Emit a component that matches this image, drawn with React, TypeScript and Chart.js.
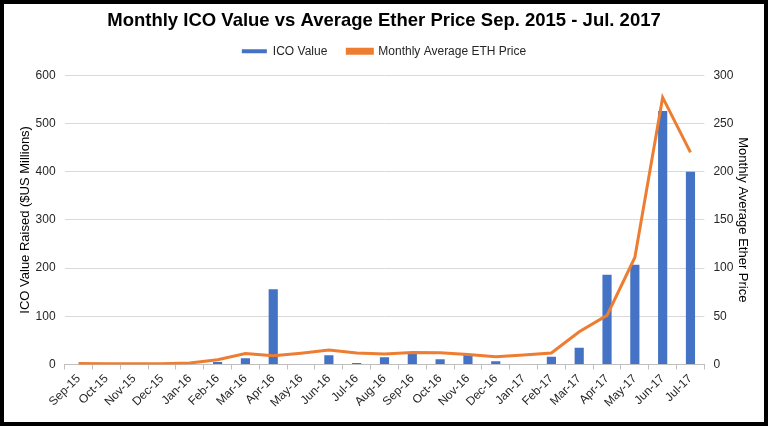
import React, { useEffect, useRef } from "react";
import { Chart, registerables } from "chart.js";

Chart.register(...registerables);

const categories = [
  "Sep-15", "Oct-15", "Nov-15", "Dec-15", "Jan-16", "Feb-16", "Mar-16", "Apr-16",
  "May-16", "Jun-16", "Jul-16", "Aug-16", "Sep-16", "Oct-16", "Nov-16", "Dec-16",
  "Jan-17", "Feb-17", "Mar-17", "Apr-17", "May-17", "Jun-17", "Jul-17",
];

const icoValue = [
  0, 0, 0, 0, 0, 5, 13, 156, 0, 19, 3, 15, 22, 11, 20, 7, 0, 16, 35, 186, 207, 526, 400,
];

const ethPrice = [
  1, 0.8, 0.9, 0.9, 1.5, 5, 11.5, 9, 11.7, 15, 12, 11, 12.5, 12.3, 10.5, 8, 10, 12, 34, 51, 111, 277, 220,
];

const leftTicks = [0, 100, 200, 300, 400, 500, 600];
const rightTicks = [0, 50, 100, 150, 200, 250, 300];

const FONT = "'Liberation Sans', Arial, sans-serif";
const TEXT = "#262626";

const legendGrow = {
  id: "legendGrow",
  beforeInit(chart: any) {
    const legend = chart.legend;
    if (!legend) return;
    const origFit = legend.fit;
    legend.fit = function () {
      origFit.bind(legend)();
      this.height += 8;
    };
  },
};

export default function App() {
  const ref = useRef<HTMLCanvasElement | null>(null);

  useEffect(() => {
    document.body.style.margin = "0";
    if (!ref.current) return;
    const chart = new Chart(ref.current, {
      type: "bar",
      plugins: [legendGrow],
      data: {
        labels: categories,
        datasets: [
          {
            type: "bar",
            label: "ICO Value",
            data: icoValue,
            backgroundColor: "#4472C4",
            borderColor: "#4472C4",
            borderWidth: 0,
            barPercentage: 0.33,
            categoryPercentage: 1,
            yAxisID: "y",
            order: 1,
          },
          {
            type: "line",
            label: "Monthly Average ETH Price",
            data: ethPrice,
            borderColor: "#ED7D31",
            backgroundColor: "#ED7D31",
            borderWidth: 3,
            pointRadius: 0,
            tension: 0,
            yAxisID: "y1",
            order: 0,
          },
        ],
      },
      options: {
        animation: false,
        responsive: false,
        maintainAspectRatio: false,
        layout: { padding: { left: 1, right: 1, top: 0, bottom: 10 } },
        plugins: {
          title: {
            display: true,
            text: "Monthly ICO Value vs Average Ether Price Sep. 2015 - Jul. 2017",
            color: "#000",
            font: { family: FONT, size: 18.5, weight: "bold" },
            padding: { top: 6, bottom: -7 },
          },
          legend: {
            display: true,
            position: "top",
            labels: {
              boxWidth: 25,
              boxHeight: 4,
              color: TEXT,
              font: { family: FONT, size: 12 },
              padding: 20,
              sort: (a: any, b: any) => a.datasetIndex - b.datasetIndex,
            },
          },
          tooltip: { enabled: false },
        },
        scales: {
          x: {
            offset: true,
            grid: {
              offset: true,
              drawOnChartArea: false,
              drawTicks: true,
              tickLength: 5,
              color: "#BFBFBF",
            },
            border: { display: true, color: "#BFBFBF" },
            ticks: {
              color: TEXT,
              font: { family: FONT, size: 12 },
              maxRotation: 45,
              minRotation: 45,
              autoSkip: false,
              padding: 2,
            },
          },
          y: {
            position: "left",
            min: 0,
            max: 600,
            afterBuildTicks: (axis: any) => {
              axis.ticks = leftTicks.map((v) => ({ value: v }));
            },
            grid: { color: "#D9D9D9", drawTicks: false, lineWidth: 1 },
            border: { display: false },
            ticks: {
              color: TEXT,
              font: { family: FONT, size: 12 },
              padding: 9,
            },
            title: {
              display: true,
              text: "ICO Value Raised ($US Millions)",
              color: "#000",
              font: { family: FONT, size: 13 },
              padding: { top: 13, bottom: -7 },
            },
          },
          y1: {
            position: "right",
            min: 0,
            max: 300,
            afterBuildTicks: (axis: any) => {
              axis.ticks = rightTicks.map((v) => ({ value: v }));
            },
            grid: { drawOnChartArea: false, drawTicks: false },
            border: { display: false },
            ticks: {
              color: TEXT,
              font: { family: FONT, size: 12 },
              padding: 9,
            },
            title: {
              display: true,
              text: "Monthly Average Ether Price",
              color: "#000",
              font: { family: FONT, size: 13 },
              padding: { top: 13, bottom: -8 },
            },
          },
        },
      },
    });
    return () => chart.destroy();
  }, []);

  return (
    <div
      style={{
        width: 768,
        height: 426,
        boxSizing: "border-box",
        border: "4px solid #000",
        background: "#fff",
        position: "relative",
      }}
    >
      <canvas ref={ref} width={760} height={418} style={{ display: "block" }} />
    </div>
  );
}
